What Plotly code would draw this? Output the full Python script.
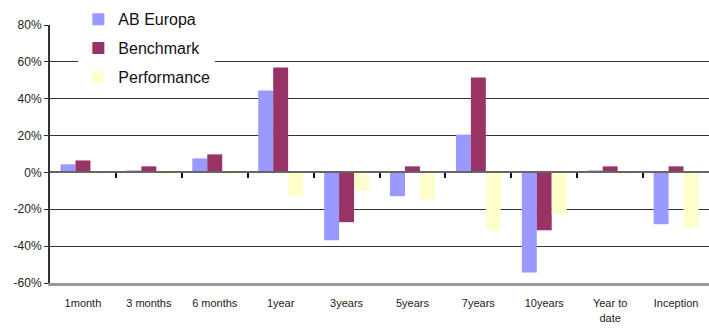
import plotly.graph_objects as go

categories = ["1month", "3 months", "6 months", "1year", "3years", "5years",
              "7years", "10years", "Year to<br>date", "Inception"]
ab_europa = [4.4, 1.1, 7.6, 44.5, -36.8, -12.9, 20.5, -54.3, 1.1, -28.1]
benchmark = [6.5, 3.3, 9.8, 57.0, -27.0, 3.3, 51.5, -31.4, 3.3, 3.3]
performance = [-0.5, -0.5, -0.5, -12.9, -9.6, -15.0, -31.4, -22.7, -0.5, -30.3]
y_ticks = [80, 60, 40, 20, 0, -20, -40, -60]
boundaries = [i + 0.5 for i in range(len(categories) - 1)]

FONT = "Arial, 'Liberation Sans', sans-serif"

fig = go.Figure()
fig.add_trace(go.Bar(x=categories, y=ab_europa, name="AB Europa",
                     marker=dict(color="#9999FF", line=dict(width=0)), legendgroup="a"))
fig.add_trace(go.Bar(x=categories, y=benchmark, name="Benchmark",
                     marker=dict(color="#993366", line=dict(width=0)), legendgroup="b"))
fig.add_trace(go.Bar(x=categories, y=performance, name="Performance",
                     marker=dict(color="#FFFFCC", line=dict(width=0)), legendgroup="c"))
# helper trace so the tick axis at the zero line is rendered
fig.add_trace(go.Scatter(x=[0], y=[0], xaxis="x2", yaxis="y",
                         showlegend=False, hoverinfo="skip", mode="markers",
                         marker=dict(size=1, opacity=0)))

fig.update_layout(
    width=709, height=331,
    margin=dict(l=50, r=0, t=25, b=48),
    paper_bgcolor="white", plot_bgcolor="white",
    barmode="group", bargap=0.32, bargroupgap=0,
    font=dict(family=FONT, color="#222222"),
    showlegend=True,
    legend=dict(x=0.043, y=1.088, xanchor="left", yanchor="top",
                bgcolor="white", borderwidth=0,
                font=dict(size=16, family=FONT, color="#111111"),
                tracegroupgap=5, itemwidth=30),
    xaxis=dict(type="category", range=[-0.5, 9.5], showgrid=False, zeroline=False,
               ticks="", showline=True, linecolor="#9a9a9a", linewidth=3,
               tickfont=dict(size=11, family=FONT, color="#222222"),
               ticklabelstandoff=8),
    xaxis2=dict(type="linear", overlaying="x", anchor="free", position=60/140,
                range=[-0.5, 9.5],
                tickmode="array", tickvals=boundaries,
                ticks="outside", ticklen=5, tickwidth=1.5, tickcolor="#111111",
                showticklabels=False, showgrid=False, zeroline=False,
                showline=True, linecolor="#666666", linewidth=1.5,
                side="bottom"),
    yaxis=dict(range=[-60, 80], tickmode="array", tickvals=y_ticks,
               ticktext=[f"{v}%" for v in y_ticks],
               showgrid=True, gridcolor="#333333", gridwidth=1,
               zeroline=False,
               showline=True, linecolor="#333333", linewidth=2,
               ticks="outside", ticklen=4, tickcolor="#333333",
               tickfont=dict(size=12, family=FONT, color="#222222")),
)

fig.write_html("out.html")
